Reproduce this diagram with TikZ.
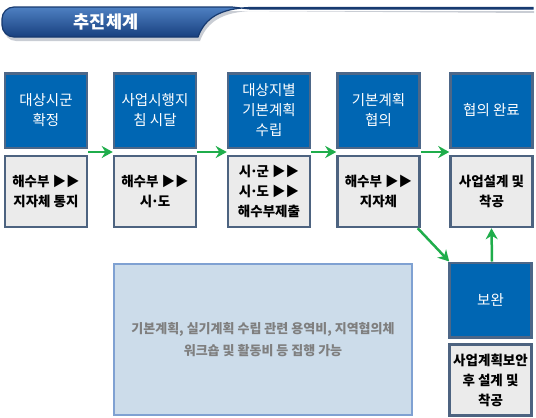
\documentclass[tikz,border=0pt]{standalone}
\usepackage{fontspec}
\setmainfont{Noto Sans CJK KR}
\usetikzlibrary{arrows.meta,calc}
\definecolor{boxblue}{HTML}{0066B3}
\definecolor{blueedge}{HTML}{4D6788}
\definecolor{graybox}{HTML}{EBEBEB}
\definecolor{grayedge}{HTML}{4D6380}
\definecolor{lightbox}{HTML}{CCDCEA}
\definecolor{lightedge}{HTML}{7FA1D2}
\definecolor{notetext}{HTML}{7F7F7F}
\definecolor{arrowgreen}{HTML}{1FAD4B}
\definecolor{bannerlight}{HTML}{4E80C2}
\definecolor{bannerdark}{HTML}{18407F}
\definecolor{banneredge}{HTML}{173A70}
\definecolor{shadowgray}{HTML}{C9CDD4}
\newcommand{\middot}{\kern-0.1em·\kern-0.1em}
\begin{document}
\begin{tikzpicture}[x=1pt,y=-1pt,
  bluebox/.style={draw=blueedge, line width=2.5pt, fill=boxblue, text=white,
    minimum width=82pt, minimum height=74.5pt, align=center, inner sep=0pt,
    font=\fontsize{14.5}{20}\selectfont},
  graystep/.style={draw=grayedge, line width=2.5pt, fill=graybox, text=black,
    minimum width=82pt, minimum height=71pt, align=center, inner sep=0pt,
    font=\bfseries\fontsize{13.5}{20}\selectfont},
  notebox/.style={draw=lightedge, line width=2.5pt, fill=lightbox, text=notetext,
    minimum width=298pt, minimum height=151pt, align=center, inner sep=0pt,
    font=\bfseries\fontsize{13}{22}\selectfont},
  flow/.style={draw=arrowgreen, line width=2.5pt, -{Stealth[length=11pt,width=12pt]}}
]
\useasboundingbox (0,0) rectangle (536,418);
% banner shadow
\fill[shadowgray, rounded corners=12pt] (232,11) -- (4,11) -- (4,41) [sharp corners] -- (200,41)
  .. controls (207,22) and (222,12) .. (252,11) -- (534,11) -- (534,13) -- cycle;
% banner
\shade[top color=bannerlight, bottom color=bannerdark, draw=banneredge, line width=1.2pt,
  rounded corners=12pt] (232,7) -- (2,7) -- (2,37) [sharp corners] -- (198,37)
  .. controls (205,18) and (220,8.5) .. (250,7.5) -- (533,7.5) -- (533,9) -- (250,9) -- (232,7) -- cycle;
\node[text=white, font=\bfseries\fontsize{17.5}{20}\selectfont] (title) at (106,22) {추진체계};

% blue steps
\node[bluebox] (b1) at (46,110.5) {대상시군\\확정};
\node[bluebox] (b2) at (155,110.5) {사업시행지\\침 시달};
\node[bluebox] (b3) at (269,110.5) {대상지별\\기본계획\\수립};
\node[bluebox] (b4) at (378.5,110.5) {기본계획\\협의};
\node[bluebox] (b5) at (491.5,110.5) {협의 완료};
% gray boxes
\node[graystep] (g1) at (46,191.5) {해수부 ▶▶\\지자체 통지};
\node[graystep] (g2) at (155,191.5) {해수부 ▶▶\\시\middot 도};
\node[graystep] (g3) at (269,191.5) {시\middot 군 ▶▶\\시\middot 도 ▶▶\\해수부제출};
\node[graystep] (g4) at (378.5,191.5) {해수부 ▶▶\\지자체};
\node[graystep] (g5) at (491.5,191.5) {사업설계 및\\착공};
% supplement
\node[bluebox] (r) at (490.5,300) {보완};
\node[graystep] (rg) at (490.5,380) {사업계획보안\\후 설계 및\\착공};
% note
\node[notebox] (note) at (263,339.5) {기본계획, 실기계획 수립 관련 용역비, 지역협의체\\워크숍 및 활동비 등 집행 가능};

% arrows
\draw[flow] ($(b1.south east)+(0,3)$) -- ($(b2.south west)+(0,3)$);
\draw[flow] ($(b2.south east)+(0,3)$) -- ($(b3.south west)+(0,3)$);
\draw[flow] ($(b3.south east)+(0,3)$) -- ($(b4.south west)+(0,3)$);
\draw[flow] ($(b4.south east)+(0,3)$) -- ($(b5.south west)+(0,3)$);
\draw[flow] ($(g4.south east)+(-3,0)$) -- ($(r.north west)+(1,0)$);
\draw[flow] ($(r.north)+(1.5,0)$) -- (g5.south);
\end{tikzpicture}
\end{document}
